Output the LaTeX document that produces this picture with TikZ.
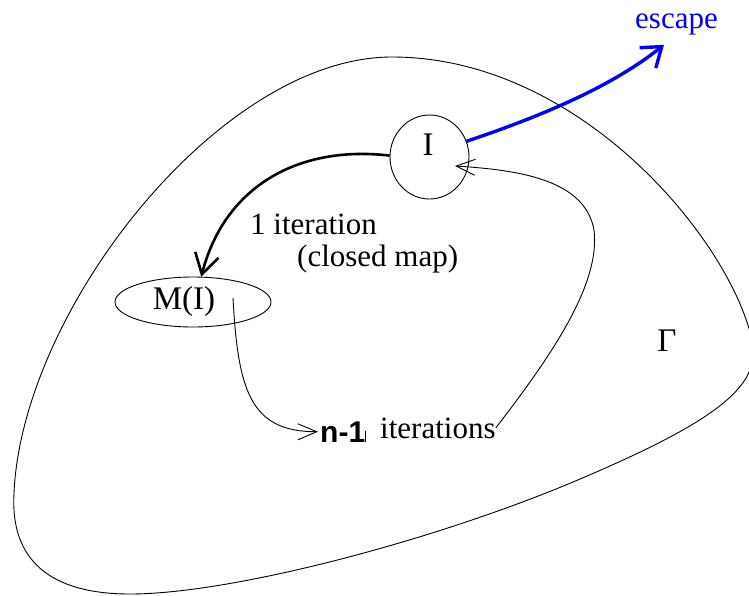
\documentclass[tikz,border=0pt]{standalone}
\usepackage{fontspec}
\setmainfont{Liberation Serif}
\newfontfamily\numfont{Liberation Sans}
\usetikzlibrary{arrows.meta,shapes.geometric}

\begin{document}
\begin{tikzpicture}[
			x=1pt, y=-1pt,
			font=\fontsize{31}{37}\selectfont,
			setnode/.style={
				ellipse,
				draw,
				line width=0.9pt,
				inner sep=0pt,
			},
			word/.style={inner sep=0pt, anchor=base west},
			big/.style={font=\fontsize{33}{40}\selectfont},
			ArrowThin/.style={% thin open arrows
				-{Straight Barb[length=19pt,width=16pt]},
				line width=0.9pt,
			},
			ArrowMap/.style={
				-{Straight Barb[length=20pt,width=24pt]},
				line width=2.6pt,
			},
			ArrowEsc/.style={
				-{Straight Barb[length=18pt,width=26pt]},
				line width=3.4pt,
				blue,
			},
			]
				\useasboundingbox (0,0) rectangle (749,595);
				\clip (0,0) rectangle (749,595);
				% the region Gamma
				\draw[line width=0.9pt] (14,493) .. controls (22,310) and (220,57) .. (392,57)
					.. controls (580,57) and (730,240) .. (752,340)
					.. controls (762,385) and (720,420) .. (573,482)
					.. controls (430,542) and (230,594) .. (130,594)
					.. controls (50,594) and (10,560) .. (14,493) -- cycle;
				\node[big] (gam) at (667,341) {Γ};
				
				% sets
				\node[setnode, minimum width=79pt, minimum height=84pt] (I) at (429.5,157) {};
				\node[big] (Ilab) at (428,145) {I};
				\node[setnode, minimum width=156pt, minimum height=50pt] (MI) at (193,302) {};
				\node[big] (MIlab) at (184,302) {M(I)};
				
				% labels
				\node[word] (one) at (250,234) {1 iteration};
				\node[word] (cmap) at (297,266) {(closed map)};
				\node[word, inner xsep=2pt] (nlab) at (318,442) {\fontsize{30}{36}\numfont\bfseries n-1\rule{0.5pt}{11pt}};
				\node[word] (itlab) at (380,438) {iterations};
				\node[word, blue] (esc) at (635,28) {escape};
				
				\coordinate (MIout) at (233,298);
				\coordinate (Iin) at (455,166);
				
				\draw[ArrowMap] (I.178) .. controls (300,145) and (225,185) .. (MI.72);
				\draw[ArrowEsc] (I.23) .. controls (560,110) and (620,80) .. ([xshift=29pt,yshift=-10pt]esc.south west);
				\draw[ArrowThin] (MIout) .. controls (238,390) and (250,432) .. (nlab.west);
				\draw[ArrowThin] (itlab.east) .. controls (560,345) and (600,280) .. (594,230)
					.. controls (585,180) and (520,170) .. (Iin);
			\end{tikzpicture}
\end{document}
